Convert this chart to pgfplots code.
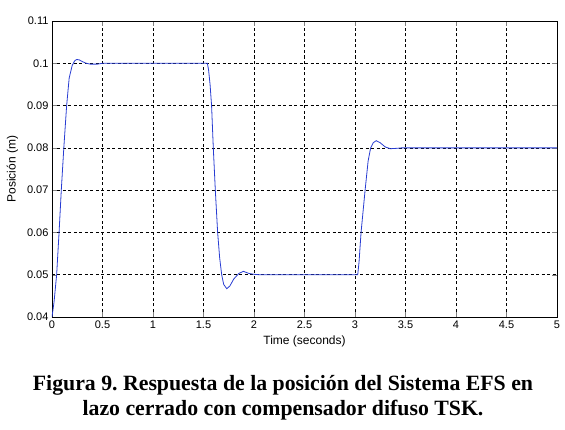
\documentclass[border=0pt]{standalone}
\usepackage{fontspec}
\setmainfont{Liberation Serif}
\newfontfamily\arial{Liberation Sans}
\usepackage{pgfplots}
\pgfplotsset{compat=1.18}
\definecolor{MatBlue}{RGB}{40,60,210}
\frenchspacing
\begin{document}
\begin{tikzpicture}
\begin{axis}[
  at={(0,0)}, anchor=south west,
  scale only axis, width=505pt, height=296pt,
  xmin=0, xmax=5, ymin=0.04, ymax=0.11,
  xtick={0,0.5,...,5}, ytick={0.04,0.05,...,0.11},
  scaled ticks=false,
  yticklabel style={/pgf/number format/.cd,fixed,precision=2},
  xticklabel style={/pgf/number format/.cd,fixed,precision=1},
  /pgf/number format/assume math mode=true,
  tick label style={font=\arial\fontsize{11}{13}\selectfont, color=black},
  label style={font=\arial\fontsize{12}{14}\selectfont},
  xlabel={Time (seconds)}, ylabel={Posición (m)},
  xlabel style={yshift=-1pt}, ylabel style={yshift=2pt},
  tick align=inside, tick pos=both, major tick length=5pt,
  axis line style={black, line width=0.7pt},
  grid=major, grid style={black, line width=0.5pt, dash pattern=on 3pt off 2.5pt},
  clip=true
]
\addplot[color=MatBlue, line width=0.8pt, mark=none] coordinates {
  (0,0.040) (0.02,0.0435) (0.046,0.050) (0.07,0.060) (0.092,0.070) (0.117,0.080)
  (0.145,0.090) (0.17,0.0965) (0.2,0.0995) (0.225,0.1006) (0.245,0.1009) (0.27,0.1008)
  (0.3,0.1004) (0.34,0.1000) (0.38,0.0998) (0.45,0.0998) (0.5,0.1) (1.538,0.1)
  (1.55,0.0985) (1.565,0.095) (1.58,0.09) (1.597,0.08) (1.617,0.07) (1.64,0.06)
  (1.66,0.054) (1.68,0.050) (1.70,0.0477) (1.73,0.0467) (1.76,0.0473) (1.8,0.0490)
  (1.85,0.0503) (1.895,0.0508) (1.95,0.0503) (2.0,0.0501) (2.05,0.050) (3.027,0.050)
  (3.04,0.053) (3.06,0.060) (3.1,0.070) (3.13,0.0769) (3.155,0.080) (3.18,0.0812)
  (3.21,0.0817) (3.25,0.0812) (3.3,0.0802) (3.35,0.0798) (3.42,0.0799) (3.46,0.080)
  (5,0.080)};
\end{axis}
\node[align=center, font=\bfseries\fontsize{21.8}{25}\selectfont, anchor=base] at (231pt,-98pt)
  {Figura 9. Respuesta de la posición del Sistema EFS en\\lazo cerrado con compensador difuso TSK.};
\pgfresetboundingbox
\path (-52pt,-112pt) rectangle (513pt,317pt);
\end{tikzpicture}
\end{document}
